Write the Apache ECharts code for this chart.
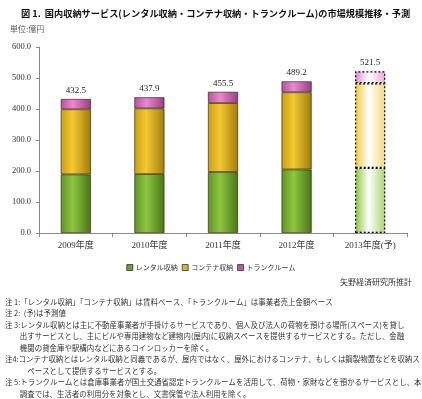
<!DOCTYPE html>
<html><head><meta charset="utf-8">
<script src="https://cdn.jsdelivr.net/npm/echarts@6/dist/echarts.min.js"></script>
<style>html,body{margin:0;padding:0;background:#fff}#c{width:422px;height:399px}</style>
</head><body><div id="c"></div>
<script>
const categories = ['2009年度','2010年度','2011年度','2012年度','2013年度(予)'];
const rental = [189, 190, 197, 205, 210];
const container = [210, 212, 222, 249, 273];
const trunk = [33.5, 35.9, 36.5, 35.2, 38.5];
const totals = ['432.5','437.9','455.5','489.2','521.5'];
const seriesNames = ['レンタル収納','コンテナ収納','トランクルーム'];
const yTicks = [0,100,200,300,400,500,600];
const notes = [
 '注 1:「レンタル収納」「コンテナ収納」は賃料ベース、「トランクルーム」は事業者売上金額ベース',
 '注 2:  (予)は予測値',
 '注 3:レンタル収納とは主に不動産事業者が手掛けるサービスであり、個人及び法人の荷物を預ける場所(スペース)を貸し',
 '　　出すサービスとし、主にビルや専用建物など建物内(屋内)に収納スペースを提供するサービスとする。ただし、金融',
 '　　機関の貸金庫や駅構内などにあるコインロッカーを除く。',
 '注4:コンテナ収納とはレンタル収納と同義であるが、屋内ではなく、屋外におけるコンテナ、もしくは鋼製物置などを収納ス',
 '　　　ペースとして提供するサービスとする。',
 '注 5:トランクルームとは倉庫事業者が国土交通省認定トランクルームを活用して、荷物・家財などを預かるサービスとし、本',
 '　　調査では、生活者の利用分を対象とし、文書保管や法人利用を除く。'
];

const serif = '"Liberation Serif","Noto Sans CJK JP",serif';
const cjk = '"Noto Sans CJK JP",sans-serif';

function grad(c1,c2,c3){
  return {type:'linear',x:0,y:0,x2:1,y2:0,colorStops:[{offset:0,color:c1},{offset:0.4,color:c2},{offset:1,color:c3}]};
}
const solid = [grad('#5f9424','#8dc63f','#4a7418'), grad('#c9a012','#f3c832','#a07c0c'), grad('#b8509c','#ea88d2','#9a3e80')];
const fore = [
  {type:'linear',x:0,y:0,x2:1,y2:0,colorStops:[{offset:0,color:'#8cc43c'},{offset:0.45,color:'#ffffff'},{offset:1,color:'#a8d468'}]},
  {type:'linear',x:0,y:0,x2:1,y2:0,colorStops:[{offset:0,color:'#f0c63a'},{offset:0.45,color:'#ffffff'},{offset:1,color:'#f5d97a'}]},
  {type:'linear',x:0,y:0,x2:1,y2:0,colorStops:[{offset:0,color:'#e685cf'},{offset:0.45,color:'#ffffff'},{offset:1,color:'#eea6dc'}]}
];
const legendColors = ['#6aa22c','#e0b420','#c0589e'];

function build(arr, idx){
  return arr.map((v,i)=> i===arr.length-1 ? {
    value:v,
    itemStyle:{color:fore[idx],borderColor:'#000',borderWidth:1.2,borderType:[2,2]}
  } : {value:v});
}

const series = [rental, container, trunk].map((arr,idx)=>({
  name: seriesNames[idx],
  type:'bar',
  stack:'total',
  barWidth:'41%',
  data: build(arr, idx),
  itemStyle:{color:solid[idx], borderColor:'rgba(50,40,10,0.85)', borderWidth:0.8},
  label: idx===2 ? {show:true, position:'top', distance:4, fontFamily:serif, fontSize:9, color:'#222',
     formatter:(p)=>totals[p.dataIndex]} : {show:false},
  emphasis:{disabled:true}
}));

const chart = echarts.init(document.getElementById('c'));
chart.setOption({
  animation:false,
  backgroundColor:'#fff',
  title:{text:'図 1.  国内収納サービス(レンタル収納・コンテナ収納・トランクルーム)の市場規模推移・予測',
    left:21, top:9, padding:0, textStyle:{fontFamily:cjk, fontSize:9.2, fontWeight:'bold', color:'#111'}},
  legend:{data:seriesNames.map((n,i)=>({name:n,itemStyle:{color:legendColors[i],borderColor:'#333',borderWidth:0.8}})),
    top:259, left:'center', icon:'rect', itemWidth:6, itemHeight:6, itemGap:4,
    textStyle:{fontFamily:cjk, fontSize:7, color:'#333', padding:[0,0,0,-2]}},
  grid:{left:39, right:15, top:47, bottom:166, containLabel:false},
  xAxis:{type:'category', data:categories,
    axisLine:{lineStyle:{color:'#888'}},
    axisTick:{show:true, length:4, lineStyle:{color:'#888'}},
    axisLabel:{fontFamily:serif, fontSize:9, color:'#333', margin:8}},
  yAxis:{type:'value', min:yTicks[0], max:yTicks[yTicks.length-1], interval:100,
    axisLine:{show:true, lineStyle:{color:'#888'}},
    axisTick:{show:true, length:3, lineStyle:{color:'#888'}},
    splitLine:{show:false},
    axisLabel:{fontFamily:serif, fontSize:8.5, color:'#333', margin:8, formatter:(v)=>v.toFixed(1)}},
  series,
  graphic:[
    {type:'text', left:10, top:25, style:{text:'単位:億円', font:'8px '+cjk, fill:'#555'}},
    {type:'text', right:10, top:278, style:{text:'矢野経済研究所推計', font:'8px '+cjk, fill:'#333'}},
    ...notes.map((t,i)=>({type:'text', left:5, top:298+i*11.5, style:{text:t, font:'7.45px '+cjk, fill:'#333'}}))
  ]
});
</script></body></html>
